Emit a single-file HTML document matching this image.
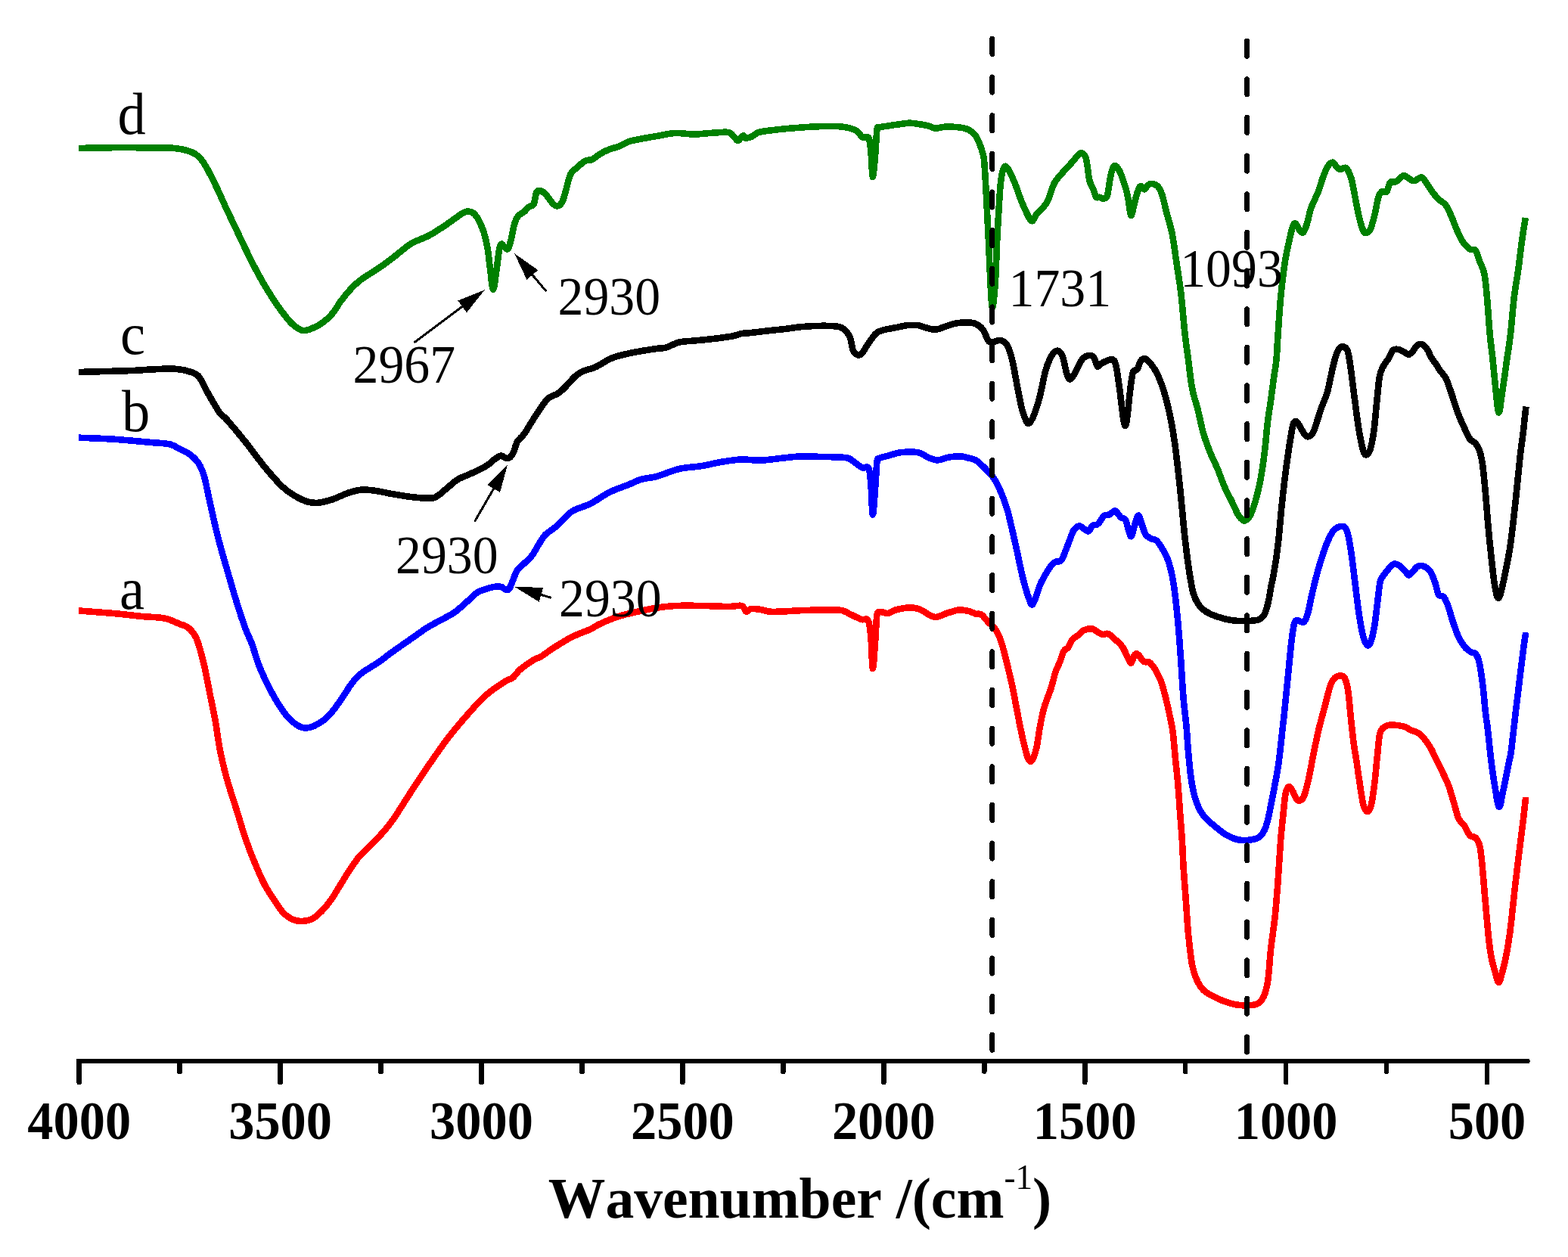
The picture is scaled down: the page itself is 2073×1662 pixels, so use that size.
<!DOCTYPE html>
<html lang="en"><head><meta charset="utf-8"><title>FTIR spectra</title>
<style>html,body{margin:0;padding:0;background:#fff}body{width:2073px;height:1662px;overflow:hidden}svg{display:block}text{font-family:"Liberation Serif",serif;fill:#000}.tk{font-weight:bold;font-size:72px;text-anchor:middle}.an{font-size:71px}.lt{font-size:78px}.c{fill:none;stroke-width:8.6;stroke-linejoin:round;stroke-linecap:butt;shape-rendering:crispEdges}</style></head><body>
<svg width="2073" height="1662" viewBox="0 0 2073 1662" shape-rendering="crispEdges">
<rect width="2073" height="1662" fill="#fff"/>
<path class="c" stroke="#ff0000" d="M104.2 807.5C111.8 808.1 136.1 809.8 150.0 811.0C163.9 812.2 176.2 813.9 187.5 815.0C198.8 816.1 209.2 815.8 217.5 817.5C225.8 819.2 232.2 822.9 237.5 825.0C242.8 827.1 245.2 826.7 249.0 830.0C252.8 833.3 256.5 836.7 260.0 845.0C263.5 853.3 267.1 867.9 270.0 880.0C272.9 892.1 275.0 905.0 277.5 917.5C280.0 930.0 282.8 942.5 285.0 955.0C287.2 967.5 288.5 980.0 291.0 992.5C293.5 1005.0 296.4 1017.1 300.0 1030.0C303.6 1042.9 308.3 1056.7 312.5 1070.0C316.7 1083.3 320.8 1097.9 325.0 1110.0C329.2 1122.1 333.3 1132.5 337.5 1142.5C341.7 1152.5 345.8 1162.1 350.0 1170.0C354.2 1177.9 358.3 1183.8 362.5 1190.0C366.7 1196.2 370.8 1203.2 375.0 1207.5C379.2 1211.8 383.3 1214.2 387.5 1216.0C391.7 1217.8 395.8 1218.2 400.0 1218.0C404.2 1217.8 408.3 1217.2 412.5 1215.0C416.7 1212.8 420.8 1209.2 425.0 1205.0C429.2 1200.8 433.3 1195.8 437.5 1190.0C441.7 1184.2 445.8 1176.7 450.0 1170.0C454.2 1163.3 458.3 1156.2 462.5 1150.0C466.7 1143.8 470.8 1137.5 475.0 1132.5C479.2 1127.5 483.3 1124.2 487.5 1120.0C491.7 1115.8 494.9 1113.2 500.0 1107.5C505.1 1101.8 510.8 1096.0 518.0 1086.0C525.2 1076.0 534.7 1060.2 543.0 1047.5C551.3 1034.8 559.7 1022.1 568.0 1010.0C576.3 997.9 584.7 985.8 593.0 975.0C601.3 964.2 609.7 954.4 618.0 945.0C626.3 935.6 634.7 926.0 643.0 918.7C651.3 911.4 662.2 904.8 668.0 901.0C673.8 897.2 674.7 898.7 678.0 896.0C681.3 893.3 683.4 888.9 688.0 885.0C692.6 881.1 700.9 875.3 705.5 872.5C710.1 869.7 711.3 870.5 715.5 868.0C719.7 865.5 723.8 861.8 730.5 857.5C737.2 853.2 747.2 846.8 755.5 842.5C763.8 838.2 774.2 834.9 780.5 832.0C786.8 829.1 786.8 827.8 793.0 825.0C799.2 822.2 809.7 817.7 818.0 815.0C826.3 812.3 834.7 810.6 843.0 808.7C851.3 806.8 859.7 805.0 868.0 803.7C876.3 802.4 882.6 801.5 893.0 801.0C903.4 800.5 918.8 800.8 930.5 801.0C942.2 801.2 954.7 802.0 963.0 802.0C971.3 802.0 976.5 799.9 980.5 801.0C984.5 802.1 984.6 808.0 986.7 808.7C988.8 809.4 989.9 805.5 993.0 805.0C996.1 804.5 1001.3 805.4 1005.5 806.0C1009.7 806.6 1012.9 808.3 1018.0 808.7C1023.1 809.1 1028.8 808.8 1036.0 808.5C1043.2 808.2 1048.9 807.4 1061.0 807.1C1073.1 806.8 1098.2 805.7 1108.7 806.5C1119.2 807.3 1118.8 810.0 1123.8 812.1C1128.8 814.2 1134.8 817.6 1138.8 819.0C1142.8 820.4 1145.5 816.3 1147.6 820.3C1149.7 824.3 1150.4 832.1 1151.4 842.8C1152.5 853.4 1152.9 884.2 1153.9 884.2C1154.9 884.2 1156.6 854.7 1157.5 842.8C1158.4 830.9 1158.4 818.3 1159.5 812.7C1160.6 807.1 1161.5 809.3 1163.9 809.0C1166.3 808.7 1170.7 811.3 1174.0 810.9C1177.3 810.5 1179.0 807.8 1184.0 806.5C1189.0 805.2 1198.3 803.3 1204.0 803.3C1209.7 803.3 1213.7 804.8 1217.9 806.5C1222.1 808.2 1225.9 811.8 1229.2 813.4C1232.5 815.0 1234.2 816.3 1237.9 815.9C1241.7 815.5 1246.7 812.5 1251.7 810.9C1256.7 809.3 1263.0 806.9 1268.0 806.5C1273.0 806.1 1278.1 807.5 1281.8 808.4C1285.5 809.3 1287.4 811.0 1290.0 811.7C1292.6 812.4 1294.7 810.7 1297.5 812.6C1300.3 814.5 1303.8 819.7 1306.9 823.0C1310.0 826.3 1313.5 828.0 1316.3 832.4C1319.1 836.8 1321.4 841.8 1323.9 849.3C1326.4 856.8 1329.1 868.2 1331.4 877.6C1333.8 887.0 1335.8 895.5 1338.0 905.8C1340.2 916.1 1342.6 929.2 1344.6 939.6C1346.6 950.0 1348.5 959.8 1350.2 967.9C1351.9 976.0 1353.5 982.5 1354.9 988.0C1356.3 993.5 1357.2 997.8 1358.5 1001.0C1359.8 1004.2 1361.1 1007.0 1362.4 1007.0C1363.7 1007.0 1365.2 1004.2 1366.5 1001.0C1367.8 997.8 1369.1 994.5 1370.5 988.0C1371.9 981.5 1373.1 970.9 1374.7 962.2C1376.3 953.5 1377.8 944.7 1380.3 935.9C1382.8 927.1 1387.2 917.4 1389.7 909.5C1392.2 901.6 1393.5 894.4 1395.4 888.8C1397.3 883.2 1399.1 880.4 1401.0 875.7C1402.9 871.0 1404.7 863.9 1406.6 860.6C1408.5 857.3 1410.4 858.4 1412.3 855.9C1414.2 853.4 1415.7 848.3 1417.9 845.6C1420.1 842.9 1423.0 842.0 1425.5 839.9C1428.0 837.8 1429.9 834.7 1433.0 833.3C1436.1 831.9 1441.2 831.0 1444.3 831.5C1447.4 832.0 1449.4 835.0 1451.8 836.2C1454.2 837.5 1456.2 838.7 1458.4 839.0C1460.6 839.3 1462.3 836.9 1465.0 838.0C1467.7 839.1 1471.3 842.8 1474.4 845.6C1477.5 848.4 1481.0 850.9 1483.8 855.0C1486.6 859.1 1489.3 866.4 1491.3 870.0C1493.2 873.6 1494.1 877.2 1495.5 876.6C1496.9 876.0 1498.3 868.2 1499.8 866.3C1501.3 864.4 1502.5 863.9 1504.5 865.3C1506.5 866.7 1509.5 873.0 1512.0 874.7C1514.5 876.4 1517.0 874.0 1519.5 875.7C1522.0 877.4 1524.6 881.0 1527.1 885.1C1529.6 889.2 1532.4 894.5 1534.6 900.1C1536.8 905.7 1538.3 911.7 1540.2 918.9C1542.1 926.1 1544.2 935.2 1545.9 943.4C1547.6 951.6 1549.3 958.9 1550.6 967.9C1551.8 976.9 1552.3 986.4 1553.4 997.6C1554.5 1008.8 1556.1 1022.8 1557.2 1035.3C1558.3 1047.8 1559.1 1060.4 1560.0 1072.9C1560.9 1085.4 1562.0 1098.0 1562.8 1110.5C1563.6 1123.0 1563.9 1135.5 1564.7 1148.1C1565.5 1160.6 1566.7 1174.6 1567.5 1185.8C1568.3 1197.0 1568.9 1206.4 1569.5 1215.0C1570.1 1223.6 1570.2 1227.5 1571.3 1237.6C1572.4 1247.6 1574.3 1265.9 1576.0 1275.3C1577.7 1284.7 1579.1 1288.5 1581.6 1294.1C1584.1 1299.7 1586.9 1305.0 1591.0 1309.1C1595.1 1313.2 1600.4 1315.7 1606.1 1318.5C1611.8 1321.3 1619.6 1324.4 1624.9 1326.1C1630.2 1327.8 1633.1 1328.4 1638.1 1328.9C1643.1 1329.4 1650.6 1329.4 1655.0 1328.9C1659.4 1328.4 1661.6 1328.4 1664.4 1326.1C1667.2 1323.8 1669.9 1320.1 1671.9 1314.8C1673.9 1309.5 1675.2 1303.9 1676.6 1294.1C1677.9 1284.3 1678.5 1269.7 1680.0 1256.0C1681.5 1242.3 1684.0 1226.8 1685.6 1212.0C1687.2 1197.2 1688.1 1183.9 1689.4 1167.0C1690.7 1150.1 1692.0 1126.2 1693.2 1110.5C1694.5 1094.8 1695.8 1083.2 1696.9 1072.9C1698.0 1062.6 1698.6 1053.9 1699.8 1048.4C1701.0 1042.9 1702.5 1040.3 1704.1 1040.0C1705.7 1039.7 1707.6 1043.8 1709.2 1046.5C1710.8 1049.2 1712.5 1054.0 1713.9 1056.0C1715.3 1058.0 1716.0 1059.1 1717.6 1058.8C1719.2 1058.5 1721.4 1058.0 1723.3 1054.1C1725.2 1050.2 1727.0 1043.1 1728.9 1035.3C1730.8 1027.5 1732.9 1015.4 1734.6 1007.0C1736.3 998.6 1737.4 992.5 1739.0 985.0C1740.6 977.5 1741.9 970.7 1744.0 962.2C1746.1 953.7 1749.0 943.4 1751.5 934.0C1754.0 924.6 1756.8 912.1 1759.0 905.8C1761.2 899.5 1762.7 898.4 1764.7 896.4C1766.8 894.4 1769.1 893.5 1771.3 893.5C1773.5 893.5 1775.9 892.8 1777.8 896.4C1779.7 900.0 1781.1 905.8 1782.5 915.2C1783.9 924.6 1785.0 941.2 1786.3 952.8C1787.5 964.4 1788.9 976.6 1790.0 985.0C1791.1 993.4 1791.6 994.6 1792.9 1003.0C1794.2 1011.4 1796.0 1025.2 1797.6 1035.3C1799.2 1045.4 1800.7 1057.2 1802.3 1063.5C1803.9 1069.8 1805.3 1072.6 1807.0 1072.9C1808.7 1073.2 1810.9 1071.7 1812.6 1065.4C1814.3 1059.1 1815.9 1046.6 1817.3 1035.3C1818.7 1024.0 1819.9 1008.6 1821.1 997.6C1822.3 986.6 1822.8 975.6 1824.4 969.5C1826.0 963.4 1827.9 962.8 1830.5 961.0C1833.1 959.2 1835.5 958.5 1839.9 958.5C1844.3 958.5 1852.8 959.7 1856.9 960.8C1861.0 961.9 1861.3 963.5 1864.4 965.0C1867.5 966.5 1872.6 967.5 1875.7 969.5C1878.8 971.5 1880.5 973.6 1883.2 977.0C1885.9 980.4 1889.8 986.2 1892.0 990.0C1894.2 993.8 1894.1 994.8 1896.4 999.5C1898.7 1004.2 1902.7 1011.7 1905.8 1018.3C1908.9 1024.9 1912.4 1031.5 1915.2 1039.0C1918.0 1046.5 1920.5 1056.3 1922.7 1063.5C1924.9 1070.7 1926.2 1077.6 1928.4 1082.3C1930.6 1087.0 1933.4 1087.9 1935.9 1091.7C1938.4 1095.5 1940.9 1102.2 1943.4 1104.9C1945.9 1107.6 1948.7 1105.2 1950.9 1107.7C1953.1 1110.2 1955.1 1113.2 1956.6 1119.9C1958.1 1126.6 1958.8 1135.5 1960.0 1148.1C1961.2 1160.6 1962.6 1179.5 1964.0 1195.2C1965.4 1210.9 1967.0 1230.6 1968.3 1242.2C1969.5 1253.8 1970.2 1258.0 1971.5 1265.0C1972.8 1272.0 1974.6 1278.3 1976.3 1284.0C1978.0 1289.7 1979.7 1299.0 1981.4 1299.0C1983.1 1299.0 1984.9 1289.7 1986.5 1284.0C1988.1 1278.3 1989.4 1273.2 1991.0 1265.0C1992.6 1256.8 1994.5 1245.8 1996.0 1235.0C1997.5 1224.2 1998.7 1211.3 2000.0 1200.0C2001.3 1188.7 2002.0 1180.3 2003.6 1167.0C2005.1 1153.7 2007.6 1134.0 2009.3 1119.9C2011.0 1105.8 2012.7 1093.3 2014.0 1082.3C2015.3 1071.3 2016.7 1058.8 2017.2 1054.1"/>
<path class="c" stroke="#0000ff" d="M104.2 578.7C111.8 579.0 134.0 579.7 150.0 580.7C166.0 581.8 187.5 583.9 200.0 585.0C212.5 586.1 218.8 586.0 225.0 587.5C231.2 589.0 233.3 591.6 237.5 593.7C241.7 595.8 245.8 596.9 250.0 600.0C254.2 603.1 259.2 607.5 262.5 612.5C265.8 617.5 267.9 623.3 270.0 630.0C272.1 636.7 272.1 639.6 275.0 652.5C277.9 665.4 283.3 690.8 287.5 707.5C291.7 724.2 295.8 737.9 300.0 752.5C304.2 767.1 308.5 782.1 312.5 795.0C316.5 807.9 320.7 820.8 324.0 830.0C327.3 839.2 329.4 841.7 332.5 850.0C335.6 858.3 338.8 870.4 342.5 880.0C346.2 889.6 350.8 899.2 355.0 907.5C359.2 915.8 363.3 923.3 367.5 930.0C371.7 936.7 375.8 942.7 380.0 947.5C384.2 952.3 388.6 956.2 392.5 958.7C396.4 961.2 399.9 962.3 403.7 962.5C407.4 962.7 411.0 961.7 415.0 960.0C419.0 958.3 423.3 955.8 427.5 952.5C431.7 949.2 435.8 945.0 440.0 940.0C444.2 935.0 448.3 928.5 452.5 922.5C456.7 916.5 461.2 908.7 465.0 903.7C468.8 898.7 471.2 895.8 475.0 892.5C478.8 889.2 483.3 886.5 487.5 883.7C491.7 881.0 494.9 879.5 500.0 876.0C505.1 872.5 510.8 867.7 518.0 862.5C525.2 857.3 535.5 850.2 543.0 845.0C550.5 839.8 556.8 835.0 563.0 831.0C569.2 827.0 574.2 824.5 580.5 821.0C586.8 817.5 594.2 814.3 600.5 810.0C606.8 805.7 613.0 799.4 618.0 795.0C623.0 790.6 626.3 786.4 630.5 783.7C634.7 781.0 639.2 780.0 643.0 778.7C646.8 777.4 649.7 776.5 653.0 776.0C656.3 775.5 660.5 775.4 663.0 776.0C665.5 776.6 666.3 779.0 668.0 779.5C669.7 780.0 671.3 780.7 673.0 778.7C674.7 776.7 676.2 771.7 678.0 767.5C679.8 763.3 681.5 757.5 684.0 753.7C686.5 750.0 689.8 748.1 693.0 745.0C696.2 741.9 699.7 739.4 703.0 735.0C706.3 730.6 710.1 723.3 713.0 718.7C715.9 714.1 716.8 711.3 720.5 707.5C724.2 703.7 730.9 700.0 735.5 696.0C740.1 692.0 744.2 687.2 748.0 683.7C751.8 680.2 752.6 678.0 758.0 675.0C763.4 672.0 772.6 670.0 780.5 666.0C788.4 662.0 797.2 655.2 805.5 651.0C813.8 646.8 823.4 643.9 830.5 641.0C837.6 638.1 841.8 635.5 848.0 633.7C854.2 631.9 859.7 632.3 868.0 630.0C876.3 627.7 888.0 622.3 898.0 620.0C908.0 617.7 918.4 617.6 928.0 616.0C937.6 614.4 946.8 611.9 955.5 610.5C964.2 609.1 972.2 607.8 980.5 607.5C988.8 607.2 996.2 609.0 1005.5 608.7C1014.8 608.4 1026.8 606.4 1036.0 605.5C1045.2 604.6 1052.7 603.5 1061.0 603.3C1069.3 603.0 1076.4 603.7 1086.0 604.0C1095.6 604.3 1111.5 604.0 1118.8 605.2C1126.1 606.5 1126.5 609.3 1130.0 611.5C1133.5 613.7 1137.0 617.1 1140.0 618.4C1143.0 619.6 1146.4 615.4 1148.3 619.0C1150.2 622.6 1150.5 630.0 1151.4 640.3C1152.3 650.5 1152.9 680.5 1153.9 680.5C1154.9 680.5 1156.6 652.0 1157.5 640.3C1158.4 628.6 1158.6 616.0 1159.5 610.2C1160.4 604.5 1160.3 607.0 1162.7 605.8C1165.1 604.5 1169.4 604.0 1174.0 602.7C1178.6 601.5 1183.6 599.0 1190.3 598.3C1197.0 597.6 1208.0 597.2 1214.1 598.3C1220.1 599.3 1222.4 602.9 1226.6 604.6C1230.8 606.3 1234.6 608.4 1239.2 608.4C1243.8 608.4 1249.2 605.5 1254.2 604.6C1259.2 603.8 1265.0 603.1 1269.3 603.3C1273.6 603.4 1276.5 604.6 1280.0 605.5C1283.5 606.4 1286.5 606.4 1290.0 608.5C1293.5 610.6 1297.2 614.2 1301.3 618.3C1305.4 622.4 1310.7 627.7 1314.5 633.3C1318.3 638.9 1321.1 645.5 1323.9 652.1C1326.7 658.7 1329.2 665.6 1331.4 672.8C1333.6 680.0 1335.4 688.9 1337.0 695.4C1338.6 701.9 1339.5 706.4 1340.8 712.0C1342.1 717.6 1343.0 721.7 1344.6 728.9C1346.2 736.1 1348.3 747.1 1350.2 755.3C1352.1 763.4 1354.2 771.7 1355.9 777.8C1357.6 783.9 1359.2 788.4 1360.6 792.0C1362.0 795.6 1363.0 799.5 1364.3 799.5C1365.6 799.5 1366.8 796.2 1368.5 792.0C1370.2 787.8 1372.7 779.0 1374.7 774.1C1376.7 769.2 1377.8 767.2 1380.3 762.8C1382.8 758.4 1387.2 751.0 1389.7 747.7C1392.2 744.4 1393.2 744.1 1395.4 743.0C1397.6 741.9 1400.7 743.5 1402.9 741.1C1405.1 738.8 1406.6 733.4 1408.5 728.9C1410.4 724.4 1412.3 718.6 1414.2 713.9C1416.1 709.2 1417.6 703.8 1419.8 700.7C1422.0 697.6 1424.2 695.2 1427.3 695.5C1430.4 695.8 1435.8 702.6 1438.6 702.5C1441.4 702.4 1442.1 696.6 1444.3 695.0C1446.5 693.4 1449.3 694.7 1451.8 692.6C1454.3 690.5 1456.8 684.2 1459.3 682.2C1461.8 680.2 1464.4 681.4 1466.9 680.3C1469.4 679.2 1471.9 675.0 1474.4 675.6C1476.9 676.2 1479.6 682.1 1481.9 684.1C1484.2 686.1 1486.3 684.5 1488.0 687.5C1489.7 690.5 1491.0 698.4 1492.3 702.0C1493.6 705.6 1494.4 710.3 1495.7 709.0C1497.0 707.7 1498.7 698.6 1500.2 694.0C1501.8 689.4 1503.4 681.6 1505.0 681.5C1506.6 681.4 1508.0 689.1 1509.6 693.3C1511.2 697.5 1512.5 703.4 1514.5 706.5C1516.5 709.6 1519.0 710.6 1521.4 712.0C1523.8 713.4 1526.5 712.6 1529.0 714.8C1531.5 717.0 1534.0 721.0 1536.5 725.2C1539.0 729.4 1541.8 734.2 1544.0 740.2C1546.2 746.2 1548.0 753.4 1549.6 760.9C1551.2 768.4 1552.1 775.4 1553.4 785.4C1554.7 795.4 1556.0 807.3 1557.2 821.1C1558.5 834.9 1559.7 850.9 1560.9 868.1C1562.2 885.4 1563.4 909.3 1564.7 924.6C1566.0 939.9 1567.4 947.8 1568.5 960.0C1569.6 972.2 1570.2 985.7 1571.3 997.6C1572.4 1009.5 1573.6 1022.1 1575.0 1031.5C1576.4 1040.9 1577.7 1047.2 1579.7 1054.1C1581.8 1061.0 1584.5 1067.9 1587.3 1072.9C1590.1 1077.9 1593.0 1080.4 1596.7 1084.2C1600.5 1088.0 1605.4 1092.0 1609.8 1095.5C1614.2 1099.0 1618.3 1102.4 1623.0 1104.9C1627.7 1107.4 1633.1 1109.6 1638.1 1110.5C1643.1 1111.4 1648.7 1111.1 1653.1 1110.5C1657.5 1109.9 1661.3 1109.0 1664.4 1106.8C1667.5 1104.6 1669.9 1101.4 1671.9 1097.3C1673.9 1093.2 1675.2 1087.5 1676.6 1082.3C1677.9 1077.1 1678.6 1073.0 1680.0 1066.0C1681.4 1059.0 1683.4 1048.3 1685.0 1040.0C1686.6 1031.7 1688.2 1024.0 1689.4 1016.0C1690.7 1008.0 1691.4 1001.3 1692.5 992.0C1693.6 982.7 1695.1 968.1 1696.0 960.0C1696.9 951.9 1696.8 954.0 1697.9 943.4C1699.0 932.8 1701.0 912.1 1702.6 896.4C1704.2 880.7 1705.9 861.2 1707.3 849.3C1708.7 837.4 1709.8 829.8 1711.0 824.9C1712.2 820.0 1713.4 820.7 1714.8 820.2C1716.2 819.7 1717.9 821.7 1719.5 822.0C1721.1 822.3 1722.6 823.7 1724.2 822.0C1725.8 820.3 1727.2 817.8 1728.9 811.7C1730.6 805.6 1732.4 794.8 1734.6 785.4C1736.8 776.0 1739.6 764.4 1742.1 755.3C1744.6 746.2 1747.4 737.4 1749.6 730.8C1751.8 724.2 1753.1 720.6 1755.3 715.7C1757.5 710.8 1760.3 704.8 1762.8 701.6C1765.3 698.4 1767.8 697.4 1770.3 696.6C1772.8 695.8 1775.8 695.0 1777.8 696.9C1779.8 698.8 1780.9 701.6 1782.5 708.2C1784.1 714.8 1785.6 725.4 1787.2 736.4C1788.8 747.4 1790.3 761.5 1791.9 774.1C1793.5 786.7 1795.0 800.4 1796.7 811.7C1798.4 823.0 1800.4 834.9 1802.3 841.8C1804.2 848.7 1806.2 852.1 1807.9 853.1C1809.6 854.1 1811.0 851.9 1812.6 847.5C1814.2 843.1 1815.9 835.3 1817.3 826.8C1818.7 818.3 1819.8 806.4 1821.1 796.7C1822.4 787.0 1823.3 774.7 1824.9 768.4C1826.5 762.1 1828.3 762.1 1830.5 759.0C1832.7 755.9 1835.8 751.9 1838.0 749.6C1840.2 747.4 1841.5 745.6 1843.7 745.5C1845.9 745.4 1848.9 747.1 1851.2 748.7C1853.5 750.3 1855.9 753.3 1857.8 755.3C1859.7 757.3 1860.8 760.5 1862.5 760.5C1864.2 760.5 1866.1 757.3 1868.1 755.3C1870.1 753.3 1872.3 749.8 1874.7 748.7C1877.1 747.6 1879.6 747.6 1882.3 748.7C1885.0 749.8 1888.2 751.7 1890.7 755.3C1893.2 758.9 1895.4 765.1 1897.3 770.3C1899.2 775.5 1900.1 783.2 1902.0 786.3C1903.9 789.4 1906.6 786.8 1908.6 789.1C1910.6 791.5 1912.3 795.4 1914.2 800.4C1916.1 805.4 1917.9 812.9 1919.9 819.2C1922.0 825.5 1924.6 833.3 1926.5 838.0C1928.4 842.7 1929.3 844.4 1931.2 847.5C1933.1 850.6 1935.5 854.4 1937.8 856.9C1940.1 859.4 1943.1 861.2 1945.3 862.5C1947.5 863.8 1949.2 862.2 1950.9 864.4C1952.6 866.6 1954.0 868.8 1955.6 875.7C1957.2 882.6 1958.9 894.5 1960.3 905.8C1961.7 917.1 1963.0 933.5 1964.1 943.4C1965.2 953.3 1965.8 954.4 1967.0 965.0C1968.2 975.6 1969.9 993.5 1971.6 1007.0C1973.3 1020.5 1975.6 1036.0 1977.3 1046.0C1979.0 1056.0 1980.3 1067.0 1982.0 1067.0C1983.7 1067.0 1985.0 1056.0 1987.2 1046.0C1989.4 1036.0 1993.3 1016.0 1995.1 1007.0C1996.9 998.0 1996.6 1002.6 1998.0 992.0C1999.4 981.4 2001.7 959.3 2003.6 943.4C2005.5 927.5 2007.6 910.5 2009.3 896.4C2011.0 882.3 2012.7 868.7 2014.0 858.7C2015.3 848.7 2016.7 840.0 2017.2 836.2"/>
<path class="c" stroke="#000000" d="M104.2 492.0C110.2 491.8 128.2 491.3 140.0 491.0C151.8 490.7 165.0 490.4 175.0 490.0C185.0 489.6 191.7 488.9 200.0 488.5C208.3 488.1 218.7 487.5 225.0 487.5C231.3 487.5 233.8 487.9 238.0 488.5C242.2 489.1 245.9 489.7 250.0 491.2C254.1 492.7 258.3 492.7 262.5 497.5C266.7 502.3 270.4 512.1 275.0 520.0C279.6 527.9 285.8 539.2 290.0 545.0C294.2 550.8 294.2 548.3 300.0 555.0C305.8 561.7 316.7 574.6 325.0 585.0C333.3 595.4 341.7 607.5 350.0 617.5C358.3 627.5 366.7 637.8 375.0 645.0C383.3 652.2 392.9 657.7 400.0 661.0C407.1 664.3 411.2 665.0 417.5 665.0C423.8 665.0 430.0 663.3 437.5 661.0C445.0 658.7 455.4 653.2 462.5 651.0C469.6 648.8 473.8 647.8 480.0 647.5C486.2 647.2 493.7 648.6 500.0 649.5C506.3 650.4 510.8 651.8 518.0 653.0C525.2 654.2 534.7 656.0 543.0 657.0C551.3 658.0 562.2 658.9 568.0 658.7C573.8 658.5 573.8 658.5 578.0 656.0C582.2 653.5 588.4 647.4 593.0 643.7C597.6 640.0 600.5 636.7 605.5 633.7C610.5 630.8 616.8 629.0 623.0 626.0C629.2 623.0 637.6 619.3 643.0 616.0C648.4 612.7 652.2 608.2 655.5 606.0C658.8 603.8 660.9 602.6 663.0 602.5C665.1 602.4 666.2 605.1 668.0 605.5C669.8 605.9 672.2 606.3 674.0 605.0C675.8 603.7 677.3 601.0 679.0 597.5C680.7 594.0 681.7 587.7 684.0 583.7C686.3 579.7 689.4 578.7 693.0 573.7C696.6 568.7 701.3 560.2 705.5 553.7C709.7 547.2 714.7 539.6 718.0 535.0C721.3 530.4 722.2 528.5 725.5 526.0C728.8 523.5 734.2 522.5 738.0 520.0C741.8 517.5 744.2 514.8 748.0 511.0C751.8 507.2 756.8 500.8 760.5 497.5C764.2 494.2 765.9 493.1 770.5 491.0C775.1 488.9 782.2 487.7 788.0 485.0C793.8 482.3 800.5 477.4 805.5 475.0C810.5 472.6 811.8 472.2 818.0 470.5C824.2 468.8 834.7 466.6 843.0 465.0C851.3 463.4 861.8 461.9 868.0 461.0C874.2 460.1 875.5 460.9 880.5 459.5C885.5 458.1 891.8 454.0 898.0 452.5C904.2 451.0 910.5 451.2 918.0 450.5C925.5 449.8 934.7 449.0 943.0 448.0C951.3 447.0 961.8 445.7 968.0 444.5C974.2 443.3 976.3 441.8 980.5 441.0C984.7 440.2 986.8 440.7 993.0 440.0C999.2 439.3 1010.8 437.8 1018.0 437.0C1025.2 436.2 1028.8 436.0 1036.0 435.2C1043.2 434.4 1052.7 432.7 1061.0 432.0C1069.3 431.3 1078.7 430.9 1086.0 430.8C1093.3 430.7 1100.4 430.9 1105.0 431.4C1109.6 431.9 1111.1 432.2 1113.8 433.9C1116.5 435.6 1119.4 438.8 1121.3 441.5C1123.2 444.2 1124.0 446.6 1125.0 450.2C1126.0 453.8 1126.5 459.9 1127.6 462.8C1128.6 465.7 1130.0 466.7 1131.3 467.8C1132.5 468.9 1133.6 469.9 1135.1 469.7C1136.6 469.5 1138.2 468.7 1140.1 466.5C1142.0 464.3 1144.3 459.6 1146.4 456.5C1148.5 453.4 1150.5 450.4 1152.6 447.7C1154.7 445.0 1156.4 442.1 1158.9 440.2C1161.4 438.3 1163.1 437.6 1167.7 436.4C1172.3 435.1 1181.3 433.7 1186.5 432.7C1191.7 431.7 1194.4 430.6 1199.0 430.2C1203.6 429.8 1209.9 429.7 1214.1 430.2C1218.3 430.7 1220.3 432.4 1224.1 433.3C1227.9 434.2 1232.5 436.0 1236.7 435.8C1240.9 435.6 1244.6 433.4 1249.2 432.0C1253.8 430.6 1259.2 428.3 1264.3 427.4C1269.4 426.5 1275.7 426.4 1280.0 426.5C1284.3 426.6 1286.8 426.7 1290.0 428.2C1293.2 429.7 1296.6 431.9 1299.4 435.7C1302.2 439.5 1304.7 448.0 1306.9 450.8C1309.1 453.6 1310.1 452.9 1312.6 452.7C1315.1 452.5 1318.9 449.3 1322.0 449.9C1325.1 450.5 1328.7 452.2 1331.4 456.4C1334.1 460.6 1335.8 466.5 1338.0 475.3C1340.2 484.1 1342.6 498.8 1344.6 509.1C1346.6 519.4 1348.5 530.1 1350.2 537.3C1351.9 544.5 1353.3 548.6 1354.9 552.4C1356.5 556.2 1358.0 560.6 1360.0 560.0C1362.0 559.4 1364.6 554.6 1367.1 548.6C1369.5 542.6 1372.2 533.9 1374.7 524.2C1377.2 514.5 1380.0 498.5 1382.2 490.3C1384.4 482.1 1385.9 479.4 1387.8 475.3C1389.7 471.2 1391.6 467.8 1393.5 465.9C1395.4 464.0 1397.2 463.1 1399.1 464.0C1401.0 464.9 1402.9 466.5 1404.8 471.5C1406.7 476.5 1408.7 489.1 1410.4 494.1C1412.1 499.1 1413.2 501.8 1415.1 501.5C1417.0 501.2 1419.3 496.3 1421.7 492.2C1424.1 488.1 1427.0 480.6 1429.2 477.1C1431.4 473.7 1432.7 472.7 1434.9 471.5C1437.1 470.3 1440.4 469.5 1442.4 470.0C1444.4 470.5 1445.7 471.9 1447.1 474.3C1448.5 476.7 1449.5 483.4 1450.9 484.5C1452.3 485.6 1453.6 482.1 1455.6 480.9C1457.6 479.7 1460.6 478.0 1463.1 477.1C1465.6 476.2 1468.6 474.4 1470.6 475.3C1472.6 476.2 1473.7 476.5 1475.3 482.8C1476.9 489.1 1478.4 501.6 1480.0 512.9C1481.6 524.2 1483.4 542.1 1484.7 550.5C1486.0 558.9 1486.6 563.0 1487.6 563.0C1488.5 563.0 1489.3 558.2 1490.4 550.5C1491.5 542.8 1492.8 526.3 1494.1 516.6C1495.3 506.9 1496.3 496.9 1497.9 492.2C1499.5 487.5 1501.8 490.9 1503.5 488.4C1505.2 485.9 1506.5 479.5 1508.2 477.1C1509.9 474.8 1511.7 473.7 1513.9 474.3C1516.1 474.9 1518.6 477.3 1521.4 480.9C1524.2 484.5 1527.7 489.1 1530.8 496.0C1533.9 502.9 1537.4 512.6 1540.2 522.3C1543.0 532.0 1545.6 543.3 1547.8 554.3C1550.0 565.3 1551.5 574.6 1553.4 588.1C1555.3 601.6 1557.4 621.1 1559.0 635.2C1560.6 649.3 1561.5 660.0 1562.8 672.8C1564.1 685.6 1565.0 698.2 1566.6 712.0C1568.2 725.8 1570.3 743.1 1572.2 755.3C1574.1 767.5 1575.7 777.9 1577.9 785.4C1580.1 792.9 1582.6 796.5 1585.4 800.4C1588.2 804.3 1590.7 806.4 1594.8 808.9C1598.9 811.4 1604.1 813.6 1609.8 815.5C1615.5 817.4 1622.4 819.3 1628.7 820.2C1635.0 821.1 1641.5 821.3 1647.5 821.1C1653.5 820.9 1660.3 820.8 1664.4 819.2C1668.5 817.6 1669.8 815.7 1671.9 811.7C1674.0 807.7 1675.7 800.6 1677.0 795.0C1678.3 789.4 1678.8 784.2 1680.0 778.0C1681.2 771.8 1682.8 764.9 1684.0 758.0C1685.2 751.1 1686.4 744.1 1687.5 736.4C1688.6 728.7 1689.2 724.2 1690.5 712.0C1691.8 699.8 1693.4 679.3 1695.1 663.4C1696.8 647.5 1698.8 630.5 1700.7 616.4C1702.6 602.3 1704.7 588.1 1706.3 578.7C1707.9 569.3 1708.7 563.4 1710.1 559.9C1711.5 556.4 1713.1 556.7 1714.8 558.0C1716.5 559.3 1718.6 564.5 1720.5 567.5C1722.4 570.5 1724.4 574.3 1726.1 575.9C1727.8 577.5 1729.1 577.7 1730.8 576.9C1732.5 576.1 1734.5 575.0 1736.4 571.2C1738.3 567.4 1740.2 559.9 1742.1 554.3C1744.0 548.6 1745.7 542.9 1747.7 537.3C1749.7 531.6 1752.4 526.7 1754.3 520.4C1756.2 514.1 1757.3 507.2 1759.0 499.7C1760.7 492.2 1762.8 481.7 1764.7 475.3C1766.6 468.9 1768.4 463.9 1770.3 461.1C1772.2 458.3 1774.1 457.8 1776.0 458.3C1777.9 458.8 1780.0 459.6 1781.6 464.0C1783.2 468.4 1783.8 474.1 1785.4 484.7C1787.0 495.3 1789.1 513.8 1791.0 527.9C1792.9 542.0 1794.8 558.0 1796.7 569.3C1798.6 580.6 1800.7 590.4 1802.3 595.7C1803.9 601.0 1804.8 601.6 1806.4 601.3C1808.0 601.0 1810.0 599.1 1811.7 593.8C1813.4 588.5 1815.0 579.6 1816.4 569.3C1817.8 558.9 1819.0 543.6 1820.2 531.7C1821.5 519.8 1822.5 505.6 1823.9 497.8C1825.3 490.0 1826.5 488.8 1828.6 484.7C1830.6 480.6 1834.0 477.0 1836.2 473.4C1838.4 469.8 1839.6 464.9 1841.8 463.0C1844.0 461.1 1846.8 461.6 1849.3 462.1C1851.8 462.6 1854.7 464.8 1856.9 465.9C1859.1 467.0 1860.6 469.0 1862.5 468.7C1864.4 468.4 1866.2 466.1 1868.1 464.0C1870.0 461.9 1871.8 457.8 1873.8 456.4C1875.8 455.0 1878.2 454.6 1880.4 455.5C1882.6 456.4 1885.0 459.1 1887.0 462.1C1889.0 465.1 1890.7 470.3 1892.6 473.4C1894.5 476.5 1896.3 478.1 1898.2 480.9C1900.1 483.7 1901.7 487.2 1903.9 490.3C1906.1 493.4 1909.2 495.6 1911.4 499.7C1913.6 503.8 1915.2 509.5 1917.1 514.8C1919.0 520.1 1920.8 526.1 1922.7 531.7C1924.6 537.3 1926.2 543.0 1928.4 548.6C1930.6 554.2 1933.4 560.3 1935.9 565.6C1938.4 570.9 1940.9 577.2 1943.4 580.6C1945.9 584.0 1948.7 583.5 1950.9 586.3C1953.1 589.1 1955.0 592.6 1956.6 597.6C1958.2 602.6 1959.0 607.0 1960.3 616.4C1961.5 625.8 1963.0 641.7 1964.1 654.0C1965.2 666.3 1965.8 676.3 1967.0 690.0C1968.2 703.7 1970.0 722.2 1971.6 736.4C1973.1 750.6 1974.7 765.9 1976.3 775.0C1977.9 784.1 1979.3 791.0 1981.0 791.0C1982.7 791.0 1984.1 784.1 1986.3 775.0C1988.5 765.9 1992.2 746.9 1994.2 736.4C1996.2 725.9 1996.4 724.2 1998.0 712.0C1999.6 699.8 2001.7 680.9 2003.6 663.4C2005.5 645.9 2007.6 622.7 2009.3 607.0C2011.0 591.3 2012.7 580.9 2014.0 569.3C2015.3 557.7 2016.8 542.8 2017.4 537.5"/>
<path class="c" stroke="#008000" d="M104.2 196.0C111.8 195.9 134.0 195.3 150.0 195.2C166.0 195.1 187.5 195.2 200.0 195.3C212.5 195.4 218.3 195.2 225.0 195.5C231.7 195.8 235.8 196.6 240.0 197.3C244.2 198.1 247.0 199.0 250.0 200.0C253.0 201.0 255.5 201.9 258.0 203.5C260.5 205.1 263.0 207.3 265.0 209.5C267.0 211.7 268.3 213.9 270.0 216.5C271.7 219.1 272.1 219.4 275.0 225.0C277.9 230.6 283.3 241.2 287.5 250.0C291.7 258.8 295.8 268.6 300.0 277.5C304.2 286.4 308.3 294.9 312.5 303.7C316.7 312.4 320.8 321.4 325.0 330.0C329.2 338.6 333.3 347.1 337.5 355.0C341.7 362.9 345.8 370.4 350.0 377.5C354.2 384.6 358.3 391.2 362.5 397.5C366.7 403.8 370.9 409.8 375.0 415.0C379.1 420.2 382.8 425.3 387.0 429.0C391.2 432.7 395.7 436.2 400.0 437.0C404.3 437.8 408.7 435.7 413.0 434.0C417.3 432.3 421.5 430.3 426.0 427.0C430.5 423.7 436.0 418.7 440.0 414.0C444.0 409.3 446.2 404.1 450.0 399.0C453.8 393.9 458.3 388.1 462.5 383.5C466.7 378.9 470.8 374.9 475.0 371.5C479.2 368.1 483.3 365.8 487.5 363.0C491.7 360.2 494.9 358.5 500.0 355.0C505.1 351.5 510.8 347.4 518.0 342.0C525.2 336.6 534.7 327.7 543.0 322.5C551.3 317.3 559.7 315.6 568.0 311.0C576.3 306.4 585.9 299.8 593.0 295.0C600.1 290.2 606.2 285.1 610.5 282.5C614.8 279.9 616.1 279.3 619.0 279.5C621.9 279.7 624.8 279.9 628.0 283.7C631.2 287.5 635.3 295.6 638.0 302.5C640.7 309.4 642.3 316.2 644.0 325.0C645.7 333.8 646.7 345.4 648.0 355.0C649.3 364.6 650.5 382.5 652.0 382.5C653.5 382.5 655.4 363.8 656.7 355.0C658.0 346.2 659.0 335.4 660.0 330.0C661.0 324.6 661.7 322.9 663.0 322.5C664.3 322.1 666.5 326.5 668.0 327.5C669.5 328.5 670.5 330.4 671.7 328.7C673.0 327.0 674.0 323.1 675.5 317.5C677.0 311.9 678.8 300.4 680.5 295.0C682.2 289.6 683.4 287.5 685.5 285.0C687.6 282.5 690.8 281.9 693.0 280.0C695.2 278.1 696.9 275.4 699.0 273.7C701.1 272.0 703.8 273.1 705.5 270.0C707.2 266.9 707.8 258.0 709.0 255.0C710.2 252.0 711.1 251.8 713.0 252.0C714.9 252.2 717.6 253.2 720.5 256.0C723.4 258.8 727.8 265.9 730.5 268.7C733.2 271.4 734.6 272.7 736.7 272.5C738.8 272.3 741.1 270.8 743.0 267.5C744.9 264.2 746.2 258.6 748.0 252.5C749.8 246.4 751.7 236.0 754.0 231.0C756.3 226.0 759.0 225.2 761.7 222.5C764.5 219.8 768.2 216.8 770.5 215.0C772.8 213.2 773.4 212.7 775.5 212.0C777.6 211.3 780.1 212.4 783.0 211.0C785.9 209.6 789.2 205.9 793.0 203.7C796.8 201.4 801.3 199.2 805.5 197.5C809.7 195.8 813.8 195.4 818.0 193.7C822.2 192.0 826.3 189.0 830.5 187.5C834.7 186.0 836.8 185.8 843.0 184.5C849.2 183.2 859.7 181.4 868.0 180.0C876.3 178.6 884.7 176.4 893.0 176.0C901.3 175.6 909.7 177.6 918.0 177.5C926.3 177.4 935.5 176.1 943.0 175.7C950.5 175.3 958.4 174.1 963.0 175.0C967.6 175.9 968.4 179.2 970.5 181.0C972.6 182.8 973.8 186.0 975.5 186.0C977.2 186.0 979.2 182.1 980.5 181.0C981.8 179.9 982.2 179.2 983.0 179.5C983.8 179.8 983.8 182.2 985.5 182.5C987.2 182.8 990.1 182.2 993.0 181.0C995.9 179.8 998.8 176.4 1003.0 175.0C1007.2 173.6 1012.5 173.2 1018.0 172.5C1023.5 171.8 1028.8 171.2 1036.0 170.5C1043.2 169.8 1052.7 169.0 1061.0 168.4C1069.3 167.8 1078.0 167.3 1086.0 167.1C1094.0 166.9 1102.4 166.7 1108.7 167.1C1115.0 167.5 1119.6 168.4 1123.8 169.6C1128.0 170.8 1131.1 172.0 1133.8 174.0C1136.5 176.0 1137.6 180.1 1140.0 181.5C1142.4 182.9 1146.4 179.1 1148.3 182.2C1150.2 185.3 1150.5 191.7 1151.4 200.3C1152.3 208.9 1152.9 234.0 1153.9 234.0C1154.9 234.0 1156.6 210.7 1157.5 200.3C1158.4 189.9 1158.6 176.8 1159.5 171.5C1160.4 166.2 1160.3 169.2 1162.7 168.4C1165.1 167.6 1170.0 167.1 1174.0 166.5C1178.0 165.9 1181.7 165.2 1186.5 164.6C1191.3 164.0 1197.6 162.7 1202.8 162.7C1208.0 162.7 1213.7 164.0 1217.9 164.6C1222.1 165.2 1224.8 165.7 1227.9 166.5C1231.0 167.3 1233.2 169.4 1236.7 169.6C1240.2 169.8 1244.0 167.9 1249.2 167.7C1254.4 167.5 1262.8 167.8 1268.0 168.4C1273.2 169.0 1277.0 169.7 1280.6 171.5C1284.2 173.3 1287.0 175.9 1289.4 179.0C1291.8 182.1 1293.4 186.2 1295.0 190.0C1296.6 193.8 1298.0 197.9 1299.0 202.0C1300.0 206.1 1300.5 204.8 1301.3 214.7C1302.1 224.6 1303.2 244.5 1304.1 261.7C1305.0 278.9 1306.0 299.3 1306.9 318.1C1307.8 336.9 1308.7 359.9 1309.5 374.6C1310.3 389.3 1311.0 406.5 1312.0 406.5C1313.0 406.5 1314.8 389.3 1315.8 374.6C1316.8 359.9 1317.5 333.8 1318.2 318.1C1319.0 302.4 1319.5 293.0 1320.3 280.5C1321.1 268.0 1321.9 252.0 1322.8 242.9C1323.7 233.8 1324.6 229.8 1325.7 226.0C1326.8 222.2 1327.9 219.5 1329.5 219.8C1331.1 220.1 1333.0 223.6 1335.2 227.8C1337.4 232.0 1340.2 238.5 1342.7 244.8C1345.2 251.1 1347.7 259.2 1350.2 265.5C1352.7 271.8 1355.4 277.9 1357.7 282.4C1360.0 286.9 1362.1 292.3 1364.3 292.3C1366.5 292.3 1368.2 285.6 1370.9 282.4C1373.6 279.2 1377.8 276.1 1380.3 273.0C1382.8 269.9 1383.8 268.6 1386.0 263.6C1388.2 258.6 1391.0 248.1 1393.5 242.9C1396.0 237.7 1397.9 236.3 1401.0 232.5C1404.1 228.7 1408.5 224.5 1412.3 220.3C1416.1 216.1 1420.8 210.1 1423.6 207.1C1426.4 204.1 1427.3 202.4 1429.2 202.4C1431.1 202.4 1433.5 204.1 1434.9 207.1C1436.3 210.1 1436.8 215.0 1437.7 220.3C1438.6 225.6 1439.1 233.8 1440.5 239.1C1441.9 244.4 1444.8 248.7 1446.2 252.3C1447.6 255.9 1447.8 259.4 1449.0 260.8C1450.2 262.2 1452.0 260.5 1453.7 260.8C1455.4 261.1 1457.6 263.1 1459.3 262.6C1461.0 262.1 1462.6 262.4 1464.0 257.9C1465.4 253.4 1466.7 241.0 1467.8 235.4C1468.9 229.8 1469.5 226.8 1470.6 224.1C1471.7 221.4 1472.8 218.7 1474.4 219.0C1476.0 219.3 1477.8 221.3 1480.0 225.9C1482.2 230.5 1485.7 240.6 1487.6 246.6C1489.5 252.6 1490.2 256.1 1491.3 261.7C1492.4 267.3 1493.3 276.7 1494.1 280.5C1494.9 284.3 1495.2 285.6 1496.0 284.4C1496.8 283.1 1497.7 277.4 1498.8 273.0C1499.9 268.6 1501.3 262.1 1502.6 257.9C1503.9 253.7 1505.3 249.5 1506.4 247.6C1507.5 245.7 1508.1 246.1 1509.2 246.6C1510.3 247.1 1511.6 250.7 1513.0 250.4C1514.4 250.1 1516.0 246.1 1517.7 244.8C1519.4 243.6 1521.1 242.6 1523.3 242.9C1525.5 243.2 1528.6 244.1 1530.8 246.6C1533.0 249.1 1534.6 252.2 1536.5 257.9C1538.4 263.5 1539.9 272.0 1542.1 280.5C1544.3 289.0 1547.4 297.7 1549.6 308.7C1551.8 319.7 1553.4 333.8 1555.3 346.4C1557.2 358.9 1559.5 372.6 1560.9 384.0C1562.4 395.4 1563.0 405.3 1564.0 415.0C1565.0 424.7 1565.5 432.8 1566.6 442.0C1567.6 451.2 1568.7 458.2 1570.3 470.0C1571.9 481.8 1573.8 501.0 1576.0 512.9C1578.2 524.8 1581.0 531.1 1583.5 541.1C1586.0 551.1 1588.2 563.4 1591.0 573.1C1593.8 582.8 1597.3 591.6 1600.4 599.4C1603.5 607.2 1606.7 612.6 1609.8 620.1C1612.9 627.6 1616.1 637.4 1619.3 644.6C1622.5 651.8 1625.9 657.6 1628.7 663.4C1631.5 669.2 1634.2 675.8 1636.2 679.5C1638.2 683.2 1639.1 684.0 1640.5 685.5C1641.9 687.0 1643.3 688.3 1644.7 688.5C1646.1 688.7 1647.6 687.8 1649.0 686.5C1650.4 685.2 1651.3 684.9 1653.1 681.0C1654.8 677.1 1657.3 671.0 1659.5 663.4C1661.7 655.8 1664.2 646.2 1666.3 635.2C1668.4 624.2 1670.3 610.2 1671.9 597.6C1673.5 585.0 1674.4 571.2 1675.7 559.9C1677.0 548.6 1678.6 540.0 1680.0 530.0C1681.4 520.0 1682.8 509.1 1684.0 500.0C1685.2 490.9 1686.6 485.0 1687.5 475.3C1688.4 465.6 1688.6 455.6 1689.6 442.0C1690.5 428.4 1691.7 409.3 1693.2 393.4C1694.7 377.5 1696.9 358.9 1698.8 346.4C1700.7 333.8 1702.8 326.0 1704.5 318.1C1706.2 310.2 1707.8 303.1 1709.2 299.3C1710.6 295.6 1711.3 294.7 1712.9 295.6C1714.5 296.6 1716.9 303.1 1718.6 305.0C1720.3 306.9 1721.7 308.5 1723.3 306.9C1724.9 305.3 1726.4 300.6 1728.0 295.6C1729.6 290.6 1731.0 282.1 1732.7 276.8C1734.4 271.5 1736.4 268.0 1738.3 263.6C1740.2 259.2 1742.3 255.1 1744.0 250.4C1745.7 245.7 1746.8 240.4 1748.7 235.4C1750.6 230.4 1753.1 223.8 1755.3 220.3C1757.5 216.9 1759.8 214.5 1761.8 214.7C1763.8 214.9 1765.8 219.7 1767.5 221.3C1769.2 222.9 1770.2 223.9 1772.2 224.1C1774.2 224.2 1777.4 220.3 1779.7 222.2C1782.0 224.1 1784.4 229.5 1786.3 235.4C1788.2 241.3 1789.3 249.4 1791.0 257.9C1792.7 266.4 1794.8 278.3 1796.7 286.2C1798.6 294.1 1800.7 301.4 1802.3 305.0C1803.9 308.6 1804.5 308.1 1806.1 307.8C1807.7 307.5 1809.8 307.0 1811.7 303.1C1813.6 299.2 1815.6 291.2 1817.3 284.3C1819.0 277.4 1820.5 266.9 1822.1 261.7C1823.7 256.5 1824.9 254.6 1826.8 253.2C1828.7 251.8 1831.4 255.2 1833.3 253.2C1835.2 251.2 1836.0 243.2 1838.0 241.0C1840.0 238.8 1842.8 241.5 1845.6 240.1C1848.4 238.7 1852.5 233.4 1855.0 232.5C1857.5 231.6 1858.2 233.3 1860.6 234.4C1862.9 235.5 1866.0 239.1 1869.1 239.1C1872.2 239.1 1876.7 234.1 1879.4 234.4C1882.1 234.7 1882.9 238.0 1885.1 241.0C1887.3 244.0 1889.8 248.5 1892.6 252.3C1895.4 256.1 1898.9 260.5 1902.0 263.6C1905.1 266.7 1908.6 267.3 1911.4 271.1C1914.2 274.9 1916.4 280.6 1918.9 286.2C1921.4 291.8 1924.0 299.4 1926.5 305.0C1929.0 310.6 1931.2 315.9 1934.0 320.0C1936.8 324.1 1940.6 327.5 1943.4 329.4C1946.2 331.3 1948.7 328.5 1950.9 331.3C1953.1 334.1 1954.7 341.4 1956.6 346.4C1958.5 351.4 1960.6 353.6 1962.2 361.4C1963.8 369.2 1964.8 380.0 1966.0 393.4C1967.2 406.8 1968.5 428.4 1969.7 442.0C1971.0 455.6 1972.1 461.8 1973.5 475.3C1974.9 488.8 1976.9 511.3 1978.2 523.0C1979.5 534.7 1980.4 545.5 1981.6 545.5C1982.8 545.5 1983.7 534.7 1985.5 523.0C1987.3 511.3 1990.4 488.8 1992.3 475.3C1994.2 461.8 1995.4 455.6 1997.0 442.0C1998.6 428.4 2000.0 407.8 2001.7 393.4C2003.4 379.0 2005.7 368.4 2007.4 355.8C2009.1 343.2 2010.5 329.4 2012.1 318.1C2013.7 306.8 2016.0 293.0 2016.8 288.0"/>
<line x1="1311.7" y1="51.1" x2="1311.7" y2="1388.6" stroke="#000" stroke-width="6.6" stroke-linecap="round" stroke-dasharray="20.60 30.05"/>
<line x1="1648.6" y1="53.8" x2="1648.6" y2="1391.3" stroke="#000" stroke-width="6.6" stroke-linecap="round" stroke-dasharray="20.60 30.05"/>
<line x1="104.5" y1="1403.0" x2="2019.6" y2="1403.0" stroke="#000" stroke-width="6.2" stroke-linecap="round"/>
<rect x="101.4" y="1399.9" width="6" height="6.2" fill="#000"/>
<path d="M101.4 1403.0V1431.2A3.3 3.3 0 0 0 108.0 1431.2V1403.0Z" fill="#000"/>
<path d="M234.3 1403.0V1417.2A3.3 3.3 0 0 0 240.9 1417.2V1403.0Z" fill="#000"/>
<path d="M367.3 1403.0V1431.2A3.3 3.3 0 0 0 373.9 1431.2V1403.0Z" fill="#000"/>
<path d="M500.2 1403.0V1417.2A3.3 3.3 0 0 0 506.8 1417.2V1403.0Z" fill="#000"/>
<path d="M633.2 1403.0V1431.2A3.3 3.3 0 0 0 639.8 1431.2V1403.0Z" fill="#000"/>
<path d="M766.2 1403.0V1417.2A3.3 3.3 0 0 0 772.8 1417.2V1403.0Z" fill="#000"/>
<path d="M899.1 1403.0V1431.2A3.3 3.3 0 0 0 905.7 1431.2V1403.0Z" fill="#000"/>
<path d="M1032.0 1403.0V1417.2A3.3 3.3 0 0 0 1038.6 1417.2V1403.0Z" fill="#000"/>
<path d="M1165.0 1403.0V1431.2A3.3 3.3 0 0 0 1171.6 1431.2V1403.0Z" fill="#000"/>
<path d="M1298.0 1403.0V1417.2A3.3 3.3 0 0 0 1304.5 1417.2V1403.0Z" fill="#000"/>
<path d="M1430.9 1403.0V1431.2A3.3 3.3 0 0 0 1437.5 1431.2V1403.0Z" fill="#000"/>
<path d="M1563.8 1403.0V1417.2A3.3 3.3 0 0 0 1570.4 1417.2V1403.0Z" fill="#000"/>
<path d="M1696.8 1403.0V1431.2A3.3 3.3 0 0 0 1703.4 1431.2V1403.0Z" fill="#000"/>
<path d="M1829.8 1403.0V1417.2A3.3 3.3 0 0 0 1836.3 1417.2V1403.0Z" fill="#000"/>
<path d="M1962.7 1403.0V1431.2A3.3 3.3 0 0 0 1969.3 1431.2V1403.0Z" fill="#000"/>
<text class="tk" transform="translate(104.7 1505.5) scale(0.95 1)">4000</text>
<text class="tk" transform="translate(370.6 1505.5) scale(0.95 1)">3500</text>
<text class="tk" transform="translate(636.5 1505.5) scale(0.95 1)">3000</text>
<text class="tk" transform="translate(902.4 1505.5) scale(0.95 1)">2500</text>
<text class="tk" transform="translate(1168.3 1505.5) scale(0.95 1)">2000</text>
<text class="tk" transform="translate(1434.2 1505.5) scale(0.95 1)">1500</text>
<text class="tk" transform="translate(1700.1 1505.5) scale(0.95 1)">1000</text>
<text class="tk" transform="translate(1966.0 1505.5) scale(0.95 1)">500</text>
<text transform="translate(1057.5 1610.0) scale(0.982 1)" text-anchor="middle" font-weight="bold" font-size="77px" style="font-kerning:none">Wavenumber /(cm<tspan font-size="46px" font-weight="normal" dy="-38.3">-1</tspan><tspan dy="38.3">)</tspan></text>
<text class="lt" transform="translate(155.5 176.5) scale(0.955 1)">d</text>
<text class="lt" transform="translate(159.0 468.0) scale(0.955 1)">c</text>
<text class="lt" transform="translate(161.0 569.5) scale(0.955 1)">b</text>
<text class="lt" transform="translate(158.0 804.5) scale(0.955 1)">a</text>
<text class="an" transform="translate(466.5 506.4) scale(0.955 1)" letter-spacing="0">2967</text>
<text class="an" transform="translate(737.5 415.8) scale(0.955 1)" letter-spacing="0">2930</text>
<text class="an" transform="translate(523.0 757.5) scale(0.955 1)" letter-spacing="0">2930</text>
<text class="an" transform="translate(739.0 814.5) scale(0.955 1)" letter-spacing="0">2930</text>
<text class="an" transform="translate(1333.5 404.5) scale(0.955 1)" letter-spacing="0">1731</text>
<text class="an" transform="translate(1560.2 379.1) scale(0.955 1)" letter-spacing="0">1093</text>
<line x1="548.7" y1="452.0" x2="612.8" y2="404.1" stroke="#000" stroke-width="3.0" stroke-linecap="round"/><polygon points="640.8,383.2 617.0,413.2 605.3,397.5" fill="#000"/>
<line x1="721.4" y1="384.3" x2="702.6" y2="361.9" stroke="#000" stroke-width="3.0" stroke-linecap="round"/><polygon points="680.1,335.1 711.4,357.2 696.4,369.7" fill="#000"/>
<line x1="628.0" y1="688.7" x2="653.7" y2="644.3" stroke="#000" stroke-width="3.0" stroke-linecap="round"/><polygon points="671.2,614.0 661.1,650.9 644.2,641.1" fill="#000"/>
<line x1="727.5" y1="790.0" x2="713.5" y2="785.8" stroke="#000" stroke-width="3.0" stroke-linecap="round"/><polygon points="680.0,775.7 718.2,777.0 712.6,795.7" fill="#000"/>
</svg></body></html>
